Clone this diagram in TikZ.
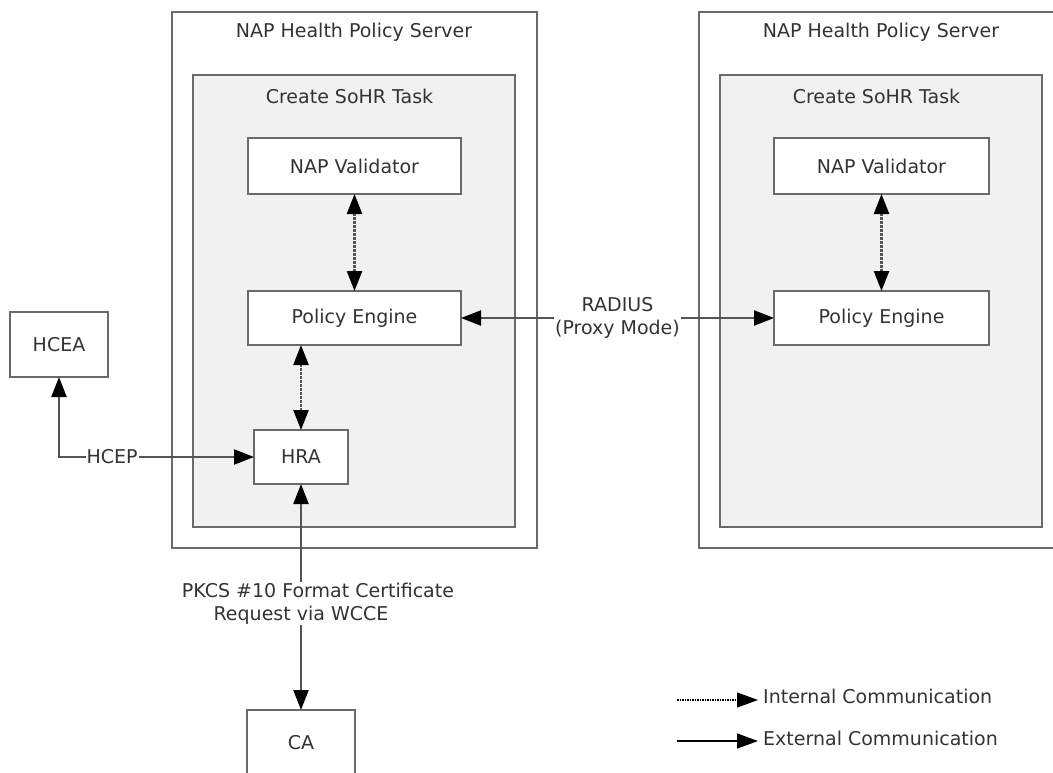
\documentclass[tikz,border=0pt]{standalone}
\usepackage{fontspec}
\setmainfont{DejaVu Sans}
\usetikzlibrary{arrows.meta}
\definecolor{bord}{HTML}{6A6A6A}
\definecolor{conn}{HTML}{555555}
\definecolor{txt}{HTML}{333333}
\definecolor{taskfill}{HTML}{F1F1F1}
\begin{document}
\begin{tikzpicture}[x=1pt,y=-1pt,
  font=\fontsize{19}{23}\selectfont, text=txt,
  box/.style={draw=bord, line width=2.2pt, fill=white, rectangle, inner sep=0pt, outer sep=0pt},
  taskbox/.style={box, fill=taskfill},
  extc/.style={draw=conn, line width=2.2pt, {Triangle[length=20pt,width=15pt,color=black]}-{Triangle[length=20pt,width=15pt,color=black]}},
  intc/.style={draw=conn, line width=2.4pt, dash pattern=on 2.5pt off 1.5pt, {Triangle[length=20pt,width=15pt,color=black]}-{Triangle[length=20pt,width=15pt,color=black]}},
  lbl/.style={fill=white, inner sep=1pt, align=center},
  legint/.style={draw=black, line width=1.3pt, dash pattern=on 1.5pt off 1pt, -{Triangle[length=21pt,width=15pt,color=black]}},
  legext/.style={draw=black, line width=1.5pt, -{Triangle[length=21pt,width=15pt,color=black]}}
]
\useasboundingbox (0,0) rectangle (1053,772);
\clip (0,0) rectangle (1053,772);

% left server
\node[box, minimum width=365pt, minimum height=536pt] (srvL) at (354.5,280) {};
\node[anchor=base] (srvLt) at (354,37) {NAP Health Policy Server};
\node[taskbox, minimum width=322pt, minimum height=452pt] (taskL) at (354,301) {};
\node[anchor=base] (taskLt) at (349.5,103) {Create SoHR Task};
\node[box, minimum width=213pt, minimum height=56pt] (valL) at (354.5,166) {NAP Validator};
\node[box, minimum width=213pt, minimum height=54pt] (peL) at (354.5,318) {Policy Engine};
\node[box, minimum width=94pt, minimum height=54pt] (hra) at (301,457) {HRA};

% right server
\node[box, minimum width=364pt, minimum height=536pt] (srvR) at (881,280) {};
\node[anchor=base] (srvRt) at (881,37) {NAP Health Policy Server};
\node[taskbox, minimum width=322pt, minimum height=452pt] (taskR) at (881,301) {};
\node[anchor=base] (taskRt) at (876.5,103) {Create SoHR Task};
\node[box, minimum width=215pt, minimum height=56pt] (valR) at (881.5,166) {NAP Validator};
\node[box, minimum width=215pt, minimum height=54pt] (peR) at (881.5,318) {Policy Engine};

% outside boxes
\node[box, minimum width=98pt, minimum height=65pt] (hcea) at (59,344.5) {HCEA};
\node[box, minimum width=108pt, minimum height=66pt] (ca) at (301,743) {CA};

% connectors
\draw[intc] (valL.south) -- (peL.north);
\draw[intc] (valR.south) -- (peR.north);
\draw[intc] (hra.north |- peL.south) -- (hra.north);
\draw[extc] (hcea.south) |- (hra.west) node[pos=0.636, lbl] (hcep) {HCEP};
\draw[extc] (peL.east) -- (peR.west) node[midway, lbl] (radius) {RADIUS\\(Proxy Mode)};
\draw[extc] (hra.south) -- (ca.north) node[pos=0.529, lbl, xshift=17pt] (pkcs) {PKCS \#10 Format Certificate\\Request via WCCE\rule{34pt}{0pt}};

% legend
\coordinate (i1) at (677,700);
\coordinate (i2) at (758,700);
\draw[legint] (i1) -- (i2);
\node[anchor=base west, inner sep=0pt] (ilbl) at (763,703) {Internal Communication};
\coordinate (e1) at (677,741);
\coordinate (e2) at (758,741);
\draw[legext] (e1) -- (e2);
\node[anchor=base west, inner sep=0pt] (elbl) at (763,745) {External Communication};
\end{tikzpicture}
\end{document}
